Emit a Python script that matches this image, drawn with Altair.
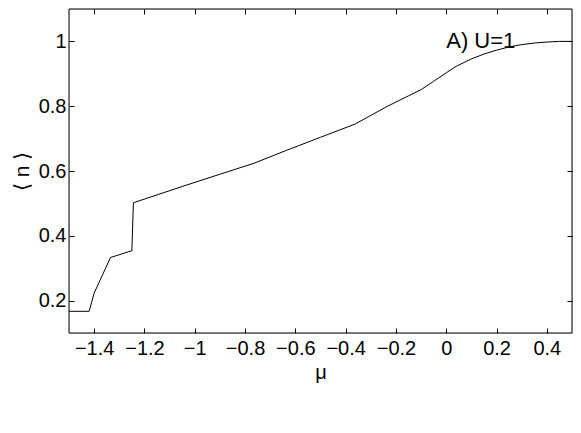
import altair as alt
import pandas as pd

mu = [-1.5, -1.42, -1.40, -1.335, -1.25, -1.244, -1.039, -0.9, -0.764, -0.638, -0.5,
      -0.362, -0.236, -0.15, -0.098, -0.05, 0.0, 0.039, 0.1, 0.15, 0.2, 0.25, 0.3,
      0.35, 0.4, 0.45, 0.5]
n = [0.167, 0.167, 0.223, 0.333, 0.354, 0.502, 0.555, 0.590, 0.624, 0.663, 0.704,
     0.745, 0.799, 0.832, 0.852, 0.877, 0.903, 0.923, 0.946, 0.961, 0.973, 0.983,
     0.990, 0.995, 0.998, 1.0, 1.0]

x_ticks = [-1.4, -1.2, -1.0, -0.8, -0.6, -0.4, -0.2, 0.0, 0.2, 0.4]
y_ticks = [0.2, 0.4, 0.6, 0.8, 1.0]

label_text = ["A) U=1"]
label_x = [0.0]
label_y = [1.0]

df = pd.DataFrame({"mu": mu, "n": n})
tdf = pd.DataFrame({"x": label_x, "y": label_y, "t": label_text})

FONT = "Liberation Sans"
W, H = 503, 324

xs = alt.Scale(domain=[-1.5, 0.5], nice=False, zero=False)
ys = alt.Scale(domain=[0.1, 1.1], nice=False, zero=False)

def fmt(expr_field):
    return f"replace(format({expr_field}, '~g'), '-', '\u2212')"

x_bottom = alt.Axis(values=x_ticks, labelExpr=fmt("datum.value"), grid=False,
                    domain=False, tickSize=5, offset=-5, tickColor="black",
                    labelPadding=5, labelFontSize=20, labelFont=FONT,
                    labelColor="black", title="\u03bc", titleFontSize=20,
                    titleFont=FONT, titleFontWeight="normal", titleColor="black",
                    titlePadding=4)
y_left = alt.Axis(values=y_ticks, labelExpr=fmt("datum.value"), grid=False,
                  domain=False, tickSize=5, offset=-5, tickColor="black",
                  labelPadding=3, labelFontSize=20, labelFont=FONT,
                  labelColor="black", title="\u27e8 n \u27e9", titleFontSize=21,
                  titleFont=FONT, titleFontWeight="normal", titleColor="black",
                  titlePadding=6)
x_top = alt.Axis(orient="top", values=x_ticks, labels=False, grid=False,
                 domain=False, tickSize=5, offset=-5, tickColor="black", title=None)
y_right = alt.Axis(orient="right", values=y_ticks, labels=False, grid=False,
                   domain=False, tickSize=5, offset=-5, tickColor="black", title=None)

line = alt.Chart(df).mark_line(color="black", strokeWidth=1).encode(
    x=alt.X("mu:Q", scale=xs, axis=x_bottom),
    y=alt.Y("n:Q", scale=ys, axis=y_left),
)

frame = alt.Chart(df).mark_line(opacity=0).encode(
    x=alt.X("mu:Q", scale=xs, axis=x_top),
    y=alt.Y("n:Q", scale=ys, axis=y_right),
)

box = alt.Chart(tdf).mark_rect(fill=None, stroke="black", strokeWidth=1).encode(
    x=alt.value(0), x2=alt.value(W), y=alt.value(0), y2=alt.value(H),
)

text = alt.Chart(tdf).mark_text(align="left", baseline="middle", fontSize=22,
                                font=FONT, color="black").encode(
    x=alt.X("x:Q", scale=xs, axis=None),
    y=alt.Y("y:Q", scale=ys, axis=None),
    text="t:N",
)

chart = alt.layer(line, frame, box, text).resolve_axis(
    x="independent", y="independent"
).properties(
    width=W, height=H,
    autosize=alt.AutoSizeParams(type="none"),
    padding={"left": 61, "top": 1, "right": 1, "bottom": 60},
).configure_view(stroke=None).configure(background="white")

chart.save("out.html", embed_options={"renderer": "svg", "actions": False})
